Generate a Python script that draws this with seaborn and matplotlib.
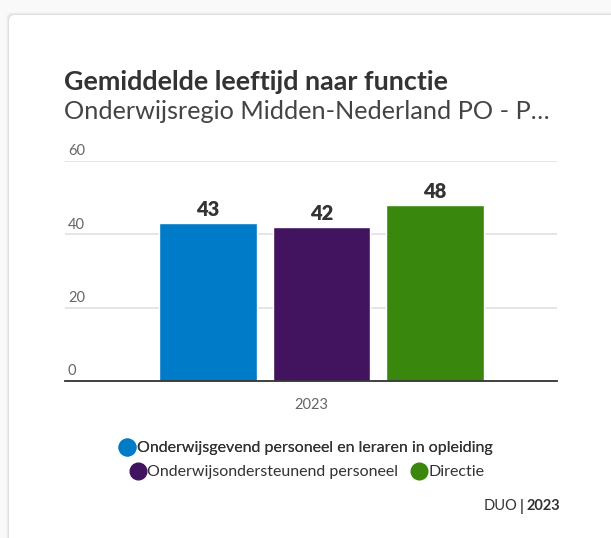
import pandas as pd
import matplotlib.pyplot as plt
import seaborn as sns
from matplotlib.lines import Line2D
from matplotlib.patches import FancyBboxPatch
from matplotlib.transforms import blended_transform_factory, ScaledTranslation

# data
jaren = ['2023']
functies = ['Onderwijsgevend personeel en leraren in opleiding',
            'Onderwijsondersteunend personeel',
            'Directie']
leeftijden = [43, 42, 48]
kleuren = ['#007BC7', '#42145F', '#39870C']
y_ticks = [0, 20, 40, 60]

titel = 'Gemiddelde leeftijd naar functie'
subtitel = 'Onderwijsregio Midden-Nederland PO - P\u2026'

df = pd.DataFrame({'jaar': jaren * len(functies),
                   'functie': functies,
                   'leeftijd': leeftijden})

sns.set_style('white')
plt.rcParams['font.family'] = ['Lato', 'DejaVu Sans']

W, H = 611, 538
fig = plt.figure(figsize=(W / 100, H / 100), dpi=100)
fig.patch.set_facecolor('#f9f9f9')

# witte kaart met zachte schaduw
for i, a in enumerate([0.02, 0.03, 0.05]):
    fig.patches.append(FancyBboxPatch((9 - 3 + i, -20), W + 20, H - 15 + 20 + 3 - i,
                                      boxstyle='round,pad=0,rounding_size=6',
                                      transform=None, facecolor='#000000', alpha=a,
                                      edgecolor='none', zorder=-2))
fig.patches.append(FancyBboxPatch((9, -20), W + 20, H - 15 + 20,
                                  boxstyle='round,pad=0,rounding_size=6',
                                  transform=None, facecolor='white',
                                  edgecolor='none', zorder=-1))

ax = fig.add_axes([65 / W, 1 - 381 / H, 492 / W, 220 / H])
ax.set_zorder(1)
ax.set_facecolor('none')
sns.barplot(data=df, x='jaar', y='leeftijd', hue='functie', hue_order=functies,
            palette=kleuren, width=0.692, gap=0.14, legend=False, ax=ax,
            saturation=1, zorder=3)

ax.set_ylim(0, 60)
# groep staat iets rechts van het midden, jaarlabel wel in het midden
ax.set_xlim(-0.521, 0.479)
ax.set_yticks(y_ticks)
ax.set_yticklabels([])
ax.tick_params(axis='y', length=0)
ax.tick_params(axis='x', length=0, labelsize=10.5, labelcolor='#666666', pad=12)
for lbl in ax.get_xticklabels():
    lbl.set_transform(lbl.get_transform() + ScaledTranslation(-0.10, 0, fig.dpi_scale_trans))
ax.grid(axis='y', color='#e0e0e0', linewidth=1.2, zorder=0)
ax.set_axisbelow(True)
ax.set_xlabel('')
ax.set_ylabel('')
for s in ['top', 'right', 'left']:
    ax.spines[s].set_visible(False)
ax.spines['bottom'].set_color('#333333')
ax.spines['bottom'].set_linewidth(1.3)
ax.spines['bottom'].set_zorder(4)

trans = blended_transform_factory(ax.transAxes, ax.transData)
for v in y_ticks:
    ax.text(0.006, v + 0.7, str(v), transform=trans, ha='left', va='bottom',
            fontsize=10.5, color='#666666')

for c in ax.containers:
    ax.bar_label(c, fmt='%d', padding=3, fontsize=14.5, fontweight='heavy',
                 color='#333333')

fig.text(64 / W, 1 - 82 / H, titel, fontsize=19.4, fontweight='bold',
         color='#333333', va='center', ha='left')
fig.text(64 / W, 1 - 111 / H, subtitel, fontsize=18.2, fontweight='normal',
         color='#444444', va='center', ha='left')

# legenda in twee rijen
def handle(kleur):
    return Line2D([], [], marker='o', linestyle='none', markersize=12,
                  markerfacecolor=kleur, markeredgecolor=kleur)

leg1 = fig.legend([handle(kleuren[0])], [functies[0]], loc='center',
                  bbox_to_anchor=(306 / W, 1 - 448 / H), frameon=False,
                  fontsize=11.5, handletextpad=0.1, handlelength=1.0,
                  labelcolor='#333333', borderpad=0)
fig.legend([handle(k) for k in kleuren[1:]], functies[1:], loc='center',
           bbox_to_anchor=(307 / W, 1 - 472 / H), frameon=False, ncol=2,
           fontsize=11.5, handletextpad=0.1, handlelength=1.0,
           columnspacing=0.8, labelcolor='#333333', borderpad=0)
fig.add_artist(leg1)

# bron
fig.canvas.draw()
r = fig.canvas.get_renderer()
t_jaar = fig.text(560 / W, 1 - 506 / H, '2023', fontsize=10.5, fontweight='bold',
                  color='#333333', ha='right', va='center')
bb = t_jaar.get_window_extent(r)
t_bar = fig.text((bb.x0 - 3) / W, 1 - 506 / H, '|', fontsize=10.5,
                 fontweight='bold', color='#333333', ha='right', va='center')
bb = t_bar.get_window_extent(r)
fig.text((bb.x0 - 2) / W, 1 - 506 / H, 'DUO', fontsize=10.5, color='#333333',
         ha='right', va='center')

fig.savefig('out.png', dpi=100)
